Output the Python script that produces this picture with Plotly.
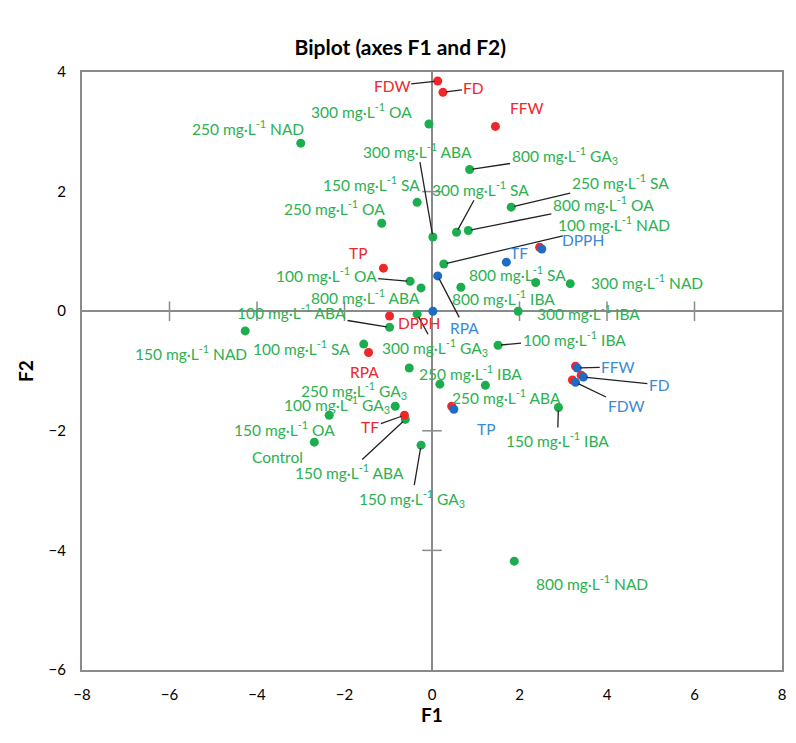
import plotly.graph_objects as go

# observations (green)
obs_labels = [
    "250 mg·L<sup>-1</sup> NAD", "300 mg·L<sup>-1</sup> OA", "300 mg·L<sup>-1</sup> ABA",
    "800 mg·L<sup>-1</sup> GA<sub>3</sub>", "150 mg·L<sup>-1</sup> SA", "300 mg·L<sup>-1</sup> SA",
    "800 mg·L<sup>-1</sup> OA", "250 mg·L<sup>-1</sup> SA", "250 mg·L<sup>-1</sup> OA",
    "100 mg·L<sup>-1</sup> NAD", "100 mg·L<sup>-1</sup> OA", "800 mg·L<sup>-1</sup> SA",
    "300 mg·L<sup>-1</sup> NAD", "800 mg·L<sup>-1</sup> ABA", "800 mg·L<sup>-1</sup> IBA",
    "100 mg·L<sup>-1</sup> ABA", "300 mg·L<sup>-1</sup> IBA", "150 mg·L<sup>-1</sup> NAD",
    "100 mg·L<sup>-1</sup> SA", "300 mg·L<sup>-1</sup> GA<sub>3</sub>", "100 mg·L<sup>-1</sup> IBA",
    "250 mg·L<sup>-1</sup> IBA", "250 mg·L<sup>-1</sup> GA<sub>3</sub>", "250 mg·L<sup>-1</sup> ABA",
    "100 mg·L<sup>-1</sup> GA<sub>3</sub>", "150 mg·L<sup>-1</sup> IBA", "150 mg·L<sup>-1</sup> OA",
    "Control", "150 mg·L<sup>-1</sup> ABA", "150 mg·L<sup>-1</sup> GA<sub>3</sub>",
    "800 mg·L<sup>-1</sup> NAD",
]
obs_f1 = [-3.00, -0.07, 0.02, 0.86, -0.34, 0.56, 0.83, 1.81, -1.15, 0.27, -0.50, 2.37,
          3.16, -0.25, 0.66, -0.97, 1.97, -4.27, -1.56, -0.34, 1.51, 0.18, -0.52, 1.22,
          -0.84, 2.89, -2.35, -2.69, -0.61, -0.25, 1.88]
obs_f2 = [2.81, 3.13, 1.24, 2.37, 1.82, 1.32, 1.35, 1.74, 1.47, 0.79, 0.50, 0.48,
          0.46, 0.39, 0.40, -0.27, 0.00, -0.33, -0.55, -0.05, -0.57, -1.22, -0.95, -1.24,
          -1.59, -1.61, -1.74, -2.19, -1.81, -2.24, -4.18]

# active variables (blue)
var_labels = ["DPPH", "TF", "RPA", "", "FFW", "FD", "FDW", "TP"]
var_f1 = [2.51, 1.70, 0.13, 0.02, 3.32, 3.46, 3.28, 0.50]
var_f2 = [1.04, 0.82, 0.59, 0.00, -0.95, -1.10, -1.19, -1.64]

# supplementary variables (red)
sup_labels = ["FDW", "FD", "FFW", "TP", "DPPH", "RPA", "TF", "", "", "", "", ""]
sup_f1 = [0.13, 0.25, 1.45, -1.11, -0.97, -1.45, -0.63, 2.46, 3.28, 3.41, 3.21, 0.45]
sup_f2 = [3.85, 3.66, 3.09, 0.72, -0.08, -0.69, -1.74, 1.07, -0.92, -1.07, -1.15, -1.59]

x_ticks = [-8, -6, -4, -2, 0, 2, 4, 6, 8]
y_ticks = [-6, -4, -2, 0, 2, 4]

# label offsets in pixels (dx, dy screen-down, leader line?)
obs_off = [
    (-53, -16, 0), (-67, -14, 0), (-15, -87, 1), (95, -14, 1), (-46, -19, 0),
    (24, -44, 1), (135, -27, 1), (109, -26, 1), (-47, -16, 0), (170, -40, 1),
    (-84, -7, 1), (-18, -9, 0), (77, -2, 0), (-56, 9, 0), (43, 10, 0),
    (-98, -16, 1), (70, 1, 0), (-54, 22, 0), (-62, 3, 0), (18, 33, 1),
    (76, -7, 1), (31, -12, 0), (-55, 22, 0), (21, 11, 0), (-58, -2, 0),
    (-1, 32, 1), (-45, 13, 0), (-37, 15, 0), (-56, 52, 1), (-9, 53, 1),
    (78, 21, 0),
]
var_off = [(41, -9, 0), (13, -9, 0), (27, 52, 1), (0, 0, 0), (41, -1, 1),
           (76, 8, 1), (50, 24, 1), (32, 20, 0)]
sup_off = [(-46, 5, 1), (31, -4, 1), (32, -18, 0), (-25, -15, 0), (29, 7, 0),
           (-4, 20, 0), (-34, 12, 1)] + [(0, 0, 0)] * 5

GREEN_M, GREEN_T = "#1CAD4E", "#2DB050"
RED = "#EF272A"
BLUE_M, BLUE_T = "#1E6CC4", "#3A8AD4"
FONT = "Lato"

fig = go.Figure()

# cross ticks on the zero lines
inner_x = [t for t in x_ticks if t not in (0, -8, 8)]
inner_y = [t for t in y_ticks if t not in (0, -6, 4)]
fig.add_trace(go.Scatter(x=inner_x, y=[0] * len(inner_x), mode="markers",
                         marker=dict(symbol="line-ns", size=14, line=dict(width=1.5, color="#8a8a8a")),
                         hoverinfo="skip", showlegend=False))
fig.add_trace(go.Scatter(x=[0] * len(inner_y), y=inner_y, mode="markers",
                         marker=dict(symbol="line-ew", size=14, line=dict(width=1.5, color="#8a8a8a")),
                         hoverinfo="skip", showlegend=False))

fig.add_trace(go.Scatter(x=obs_f1, y=obs_f2, mode="markers",
                         marker=dict(size=9, color=GREEN_M), showlegend=False))
fig.add_trace(go.Scatter(x=sup_f1, y=sup_f2, mode="markers",
                         marker=dict(size=9, color=RED), showlegend=False))
fig.add_trace(go.Scatter(x=var_f1, y=var_f2, mode="markers",
                         marker=dict(size=9, color=BLUE_M), showlegend=False))


def add_labels(labels, xs, ys, offs, color):
    for lab, x, y, (dx, dy, lead) in zip(labels, xs, ys, offs):
        if not lab:
            continue
        if lead:
            fig.add_annotation(x=x, y=y, text=lab, showarrow=True, arrowhead=0,
                               arrowwidth=1.3, arrowcolor="#222222", ax=dx, ay=dy,
                               standoff=3, font=dict(family=FONT, size=15.5, color=color))
        else:
            fig.add_annotation(x=x, y=y, text=lab, showarrow=False,
                               xshift=dx, yshift=-dy,
                               font=dict(family=FONT, size=15.5, color=color))


add_labels(obs_labels, obs_f1, obs_f2, obs_off, GREEN_T)
add_labels(sup_labels, sup_f1, sup_f2, sup_off, RED)
add_labels(var_labels, var_f1, var_f2, var_off, BLUE_T)

# the page body adds an 8px margin, so size the figure to fit the window exactly
fig.update_layout(
    width=780, height=727,
    margin=dict(l=74, r=6, t=64, b=65),
    paper_bgcolor="white", plot_bgcolor="white",
    title=dict(text="<b>Biplot (axes F1 and F2)</b>", x=0.503, xref="container",
               y=0.946, yanchor="middle", font=dict(family=FONT, size=21, color="black")),
    font=dict(family=FONT, color="black"),
)
fig.update_xaxes(range=[-8, 8], tickvals=x_ticks, showgrid=False, automargin=False,
                 zeroline=True, zerolinecolor="#8a8a8a", zerolinewidth=1.5,
                 showline=True, mirror=True, linecolor="#8a8a8a", linewidth=2,
                 ticks="", ticklabelstandoff=10, tickfont=dict(family=FONT, size=15),
                 title=dict(text="<b>F1</b>", font=dict(family=FONT, size=19), standoff=6))
fig.update_yaxes(range=[-6, 4], tickvals=y_ticks, showgrid=False, automargin=False,
                 zeroline=True, zerolinecolor="#8a8a8a", zerolinewidth=1.5,
                 showline=True, mirror=True, linecolor="#8a8a8a", linewidth=2,
                 ticks="", ticklabelstandoff=11, tickfont=dict(family=FONT, size=15),
                 title=dict(text="<b>F2</b>", font=dict(family=FONT, size=19), standoff=10))

fig.write_html("out.html")
